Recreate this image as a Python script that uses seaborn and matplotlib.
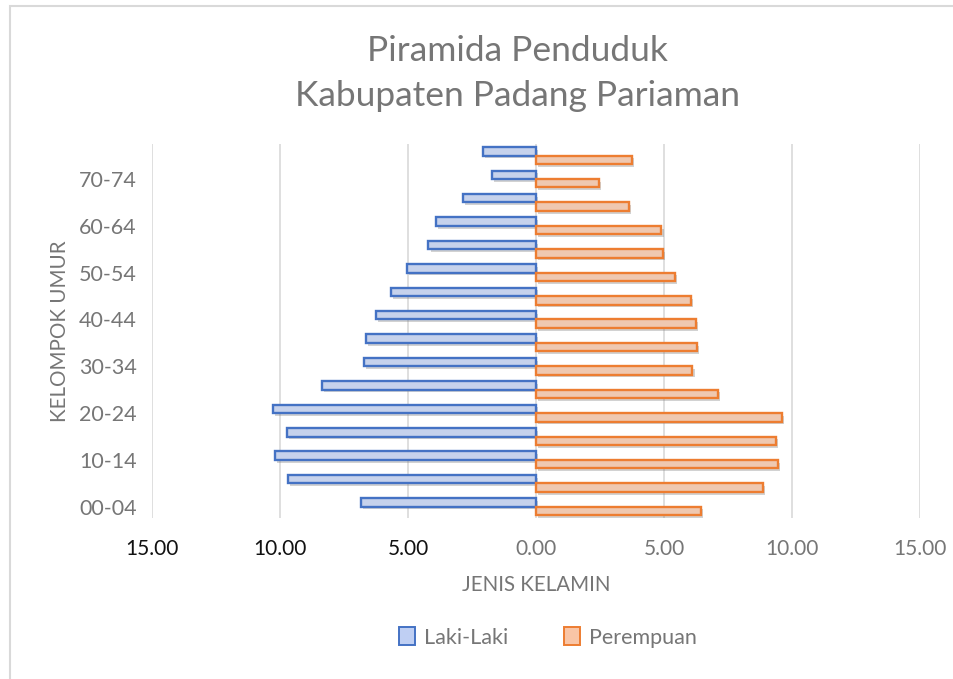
import matplotlib
matplotlib.use("Agg")
import matplotlib.pyplot as plt
import matplotlib.patheffects as pe
from matplotlib.patches import Patch, Rectangle
import seaborn as sns
import pandas as pd

# ---- data ----
kelompok_umur = ["00-04", "05-09", "10-14", "15-19", "20-24", "25-29", "30-34", "35-39",
                 "40-44", "45-49", "50-54", "55-59", "60-64", "65-69", "70-74", "75+"]
laki_laki = [6.84, 9.68, 10.20, 9.73, 10.28, 8.35, 6.73, 6.63,
             6.26, 5.68, 5.04, 4.20, 3.91, 2.87, 1.73, 2.06]
perempuan = [6.43, 8.87, 9.45, 9.36, 9.62, 7.11, 6.11, 6.30,
             6.24, 6.07, 5.43, 4.96, 4.90, 3.63, 2.46, 3.76]
x_ticks = [-15, -10, -5, 0, 5, 10, 15]
x_tick_labels = ["15.00", "10.00", "5.00", "0.00", "5.00", "10.00", "15.00"]
series = ["Laki-Laki", "Perempuan"]

df = pd.DataFrame({
    "umur": kelompok_umur * 2,
    "jenis": [series[0]] * len(kelompok_umur) + [series[1]] * len(kelompok_umur),
    "nilai": [-v for v in laki_laki] + perempuan,
})

sns.set_theme(style="white")
plt.rcParams["font.family"] = ["Lato", "DejaVu Sans"]

GRAY = "#767676"
fill_colors = {"Laki-Laki": "#bfcff3", "Perempuan": "#f9c5a6"}
edge_colors = {"Laki-Laki": "#4472c4", "Perempuan": "#ed7d31"}

fig = plt.figure(figsize=(9.54, 6.79), dpi=100)
ax = fig.add_axes([0.1593, 0.2365, 0.8051, 0.5515])

order = kelompok_umur[::-1]
sns.barplot(data=df, y="umur", x="nilai", hue="jenis", order=order, hue_order=series,
            palette=fill_colors, width=0.72, dodge=True, errorbar=None, ax=ax,
            orient="h", legend=False, zorder=3)

for cont, name in zip(ax.containers, series):
    for bar in cont:
        bar.set_edgecolor(edge_colors[name])
        bar.set_linewidth(1.7)
        bar.set_path_effects([pe.SimplePatchShadow(offset=(1.5, -2), shadow_rgbFace="#808080", alpha=0.35),
                              pe.Normal()])

ax.set_xlim(-15, 15)
ax.set_ylim(len(order) - 0.5, -0.5)
ax.set_xticks(x_ticks)
ax.set_xticklabels(x_tick_labels)
for i, lab in enumerate(ax.get_xticklabels()):
    lab.set_color("#111111" if x_ticks[i] < 0 else GRAY)
    lab.set_fontsize(15)

ylabels = [u if (kelompok_umur.index(u) % 2 == 0) else "" for u in order]
ax.set_yticks(range(len(order)))
ax.set_yticklabels(ylabels, color=GRAY, fontsize=15.5)

ax.tick_params(axis="x", length=0, pad=15)
ax.tick_params(axis="y", length=0, pad=11)
ax.grid(axis="x", color="#d9d9d9", linewidth=1.2, zorder=0)
ax.grid(axis="y", visible=False)
for s in ax.spines.values():
    s.set_visible(False)
ax.set_axisbelow(True)

ax.set_xlabel("JENIS KELAMIN", color=GRAY, fontsize=14.8, labelpad=11)
ax.set_ylabel("KELOMPOK UMUR", color=GRAY, fontsize=14.8, labelpad=6)

fig.text(0.542, 0.925, "Piramida Penduduk", ha="center", va="center", color=GRAY, fontsize=25.5)
fig.text(0.542, 0.859, "Kabupaten Padang Pariaman", ha="center", va="center", color=GRAY, fontsize=25.5)

handles = [Patch(facecolor=fill_colors[s], edgecolor=edge_colors[s], linewidth=1.4, label=s) for s in series]
leg = fig.legend(handles=handles, loc="center", bbox_to_anchor=(0.574, 0.061), ncol=2, frameon=False,
                 fontsize=15.5, handlelength=0.75, handleheight=0.9, columnspacing=2.6, handletextpad=0.4)
for t in leg.get_texts():
    t.set_color(GRAY)

# chart frame
fig.patches.append(Rectangle((10 / 954, -0.05), 1.1, 1 - 6 / 679 + 0.05, transform=fig.transFigure,
                             fill=False, edgecolor="#d9d9d9", linewidth=1.5))

fig.savefig("out.png", dpi=100)
